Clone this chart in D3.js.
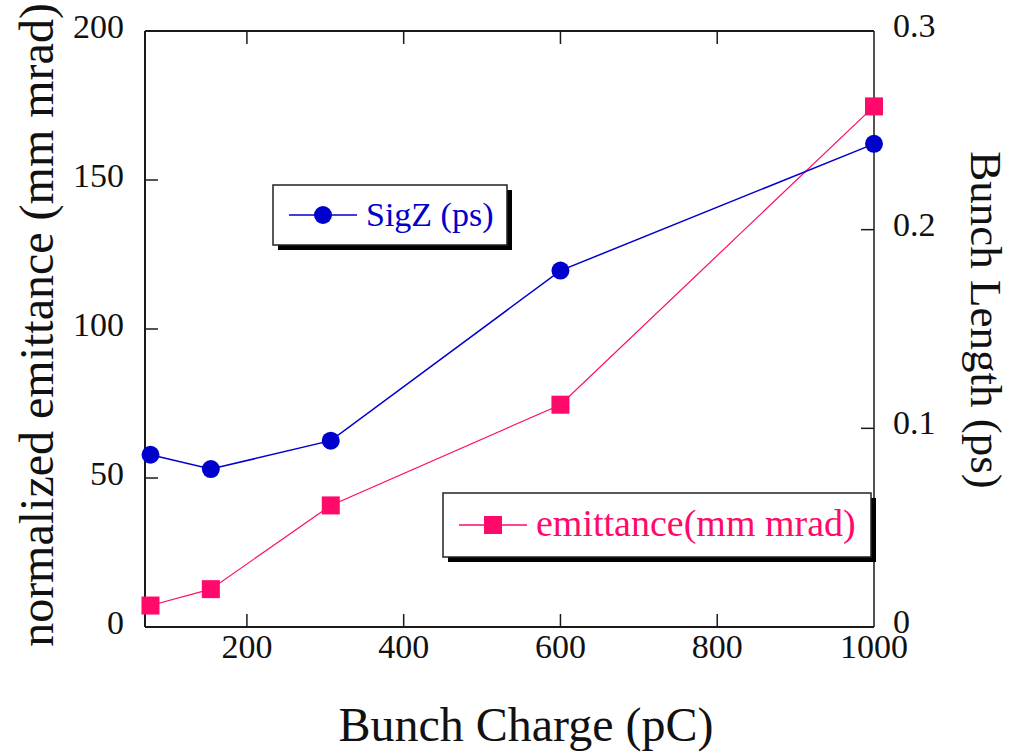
<!DOCTYPE html>
<html><head><meta charset="utf-8">
<script src="https://cdn.jsdelivr.net/npm/d3@7"></script>
<style>
html,body{margin:0;padding:0;background:#fff;}
svg text{font-family:"Liberation Serif","Times New Roman",serif;}
</style></head>
<body>
<svg id="chart" width="1014" height="754"></svg>
<script>
// Data
const charge = [77, 154, 307, 600, 1000];               // Bunch Charge (pC)
const emittance = [7.2, 12.7, 40.8, 74.6, 174.7];        // normalized emittance (mm mrad), left axis
const sigZ = [0.0867, 0.0795, 0.0938, 0.1794, 0.2432];   // Bunch length (ps), right axis
const xTicks = [200, 400, 600, 800, 1000];
const yLeftTicks = [0, 50, 100, 150, 200];
const yRightTicks = [0, 0.1, 0.2, 0.3];

const svg = d3.select("#chart");
const L = 145, R = 874, T = 31, B = 627;
const blue = "#0000cc", pink = "#ff0a6a";

const x = d3.scaleLinear().domain([70, 1000]).range([L, R]);
const yL = d3.scaleLinear().domain([0, 200]).range([B, T]);
const yR = d3.scaleLinear().domain([0, 0.3]).range([B, T]);

// frame
const frame = svg.append("g").attr("stroke", "#1a1a1a").attr("fill", "none");
frame.append("line").attr("x1", L).attr("x2", R).attr("y1", T).attr("y2", T).attr("stroke-width", 2);
frame.append("line").attr("x1", L).attr("x2", R).attr("y1", B).attr("y2", B).attr("stroke-width", 2);
frame.append("line").attr("x1", L).attr("x2", L).attr("y1", T).attr("y2", B).attr("stroke-width", 2);
frame.append("line").attr("x1", R).attr("x2", R).attr("y1", T).attr("y2", B).attr("stroke-width", 1.5);

const tl = 13;
// x ticks bottom & top (inward)
xTicks.filter(d => d < 1000).forEach(d => {
  frame.append("line").attr("x1", x(d)).attr("x2", x(d)).attr("y1", B).attr("y2", B - tl).attr("stroke-width", 1.5);
  frame.append("line").attr("x1", x(d)).attr("x2", x(d)).attr("y1", T).attr("y2", T + tl).attr("stroke-width", 1.5);
});
yLeftTicks.filter(d => d > 0 && d < 200).forEach(d => {
  frame.append("line").attr("x1", L).attr("x2", L + tl).attr("y1", yL(d)).attr("y2", yL(d)).attr("stroke-width", 1.5);
});
yRightTicks.filter(d => d > 0 && d < 0.3).forEach(d => {
  frame.append("line").attr("x1", R).attr("x2", R - tl).attr("y1", yR(d)).attr("y2", yR(d)).attr("stroke-width", 1.5);
});

// tick labels
const tf = 34;
svg.append("g").selectAll("text").data(xTicks).join("text")
  .attr("x", d => x(d)).attr("y", B + 31).attr("text-anchor", "middle")
  .attr("font-size", tf).attr("fill", "#111").text(d => d);
svg.append("g").selectAll("text").data(yLeftTicks).join("text")
  .attr("x", 124).attr("y", d => yL(d) + 7).attr("text-anchor", "end")
  .attr("font-size", tf).attr("fill", "#111").text(d => d);
svg.append("g").selectAll("text").data(yRightTicks).join("text")
  .attr("x", 893).attr("y", d => yR(d) + 6).attr("text-anchor", "start")
  .attr("font-size", tf).attr("fill", "#111").text(d => d);

// axis titles
svg.append("text").attr("x", 526).attr("y", 741).attr("text-anchor", "middle")
  .attr("font-size", 48).attr("fill", "#111").text("Bunch Charge (pC)");
svg.append("text").attr("transform", "translate(53,325) rotate(-90)").attr("text-anchor", "middle")
  .attr("font-size", 48).attr("fill", "#111").text("normalized emittance (mm mrad)");
svg.append("text").attr("transform", "translate(971,320) rotate(90)").attr("text-anchor", "middle")
  .attr("font-size", 45).attr("fill", "#111").text("Bunch Length (ps)");

// series
const lineE = d3.line().x((d, i) => x(charge[i])).y(d => yL(d));
const lineS = d3.line().x((d, i) => x(charge[i])).y(d => yR(d));
svg.append("path").attr("d", lineE(emittance)).attr("fill", "none").attr("stroke", pink).attr("stroke-width", 1.2);
svg.append("path").attr("d", lineS(sigZ)).attr("fill", "none").attr("stroke", blue).attr("stroke-width", 1.5);
svg.append("g").selectAll("circle").data(sigZ).join("circle")
  .attr("cx", (d, i) => x(charge[i])).attr("cy", d => yR(d)).attr("r", 9).attr("fill", blue);
svg.append("g").selectAll("rect").data(emittance).join("rect")
  .attr("x", (d, i) => x(charge[i]) - 9).attr("y", d => yL(d) - 9).attr("width", 18).attr("height", 18).attr("fill", pink);

// legends
function legend(bx, by, bw, bh, color, marker, label, fs) {
  const g = svg.append("g");
  g.append("rect").attr("x", bx + 5).attr("y", by + 5).attr("width", bw).attr("height", bh).attr("fill", "#000");
  g.append("rect").attr("x", bx).attr("y", by).attr("width", bw).attr("height", bh).attr("fill", "#fff").attr("stroke", "#222").attr("stroke-width", 1.5);
  const cy = by + bh / 2;
  g.append("line").attr("x1", bx + 16).attr("x2", bx + 84).attr("y1", cy).attr("y2", cy).attr("stroke", color).attr("stroke-width", 1.5);
  if (marker === "circle") g.append("circle").attr("cx", bx + 50).attr("cy", cy).attr("r", 9).attr("fill", color);
  else g.append("rect").attr("x", bx + 41).attr("y", cy - 9).attr("width", 18).attr("height", 18).attr("fill", color);
  g.append("text").attr("x", bx + 93).attr("y", cy + 11).attr("font-size", fs).attr("fill", color).text(label);
}
legend(273, 185, 234, 60, blue, "circle", "SigZ (ps)", 34);
legend(443, 493, 428, 64, pink, "rect", "emittance(mm mrad)", 38);
</script>
</body></html>
